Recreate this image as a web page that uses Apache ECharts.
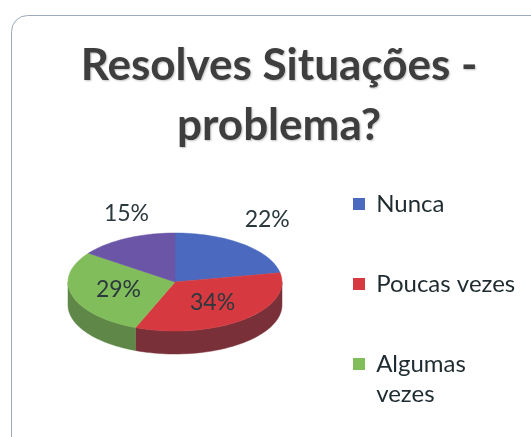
<!DOCTYPE html>
<html>
<head>
<meta charset="utf-8">
<script src="https://cdn.jsdelivr.net/npm/echarts@6/dist/echarts.min.js"></script>
<style>
  html, body { margin: 0; padding: 0; background: #ffffff; }
  #chart { width: 531px; height: 437px; }
</style>
</head>
<body>
<div id="chart"></div>
<script>
// Answer categories and their shares (%)
const categories = ['Nunca', 'Poucas vezes', 'Algumas vezes', 'Sempre'];
const percents = [22, 34, 29, 15];
// Only the first three categories fit in the legend box
const legendNames = ['Nunca', 'Poucas vezes', 'Algumas vezes'];
const titleText = 'Resolves Situações -\nproblema?';

// Face and side colours of each slice
const topColors = ['#4a69bf', '#d63a40', '#82bd5b', '#6a55a6'];
const sideColors = ['#34497f', '#7a3038', '#5f8748', '#4a3b73'];

// Tilted-pie geometry
const PIE = { cx: 175, cy: 282, rx: 107, ry: 49, depth: 23 };
const FONT = 'Lato, "Open Sans", sans-serif';

const total = percents.reduce((a, b) => a + b, 0);
const startAngles = [];
(function () {
  let acc = 0;
  percents.forEach(function (v) { startAngles.push(acc / total * Math.PI * 2); acc += v; });
})();

// Point on the ellipse for an angle measured clockwise from 12 o'clock
function ellipsePoint(a, dy) {
  return [PIE.cx + PIE.rx * Math.sin(a), PIE.cy - PIE.ry * Math.cos(a) + (dy || 0)];
}
function arc(a0, a1, dy) {
  const pts = [];
  const n = Math.max(2, Math.ceil((a1 - a0) / (Math.PI / 90)));
  for (let i = 0; i <= n; i++) pts.push(ellipsePoint(a0 + (a1 - a0) * i / n, dy));
  return pts;
}

function makeRender(i) {
  return function (params, api) {
    const share = api.value(0);
    const a0 = startAngles[i];
    const a1 = a0 + share / total * Math.PI * 2;
    const children = [];

    // Front wall: only the part facing the viewer (lower half of the ellipse)
    const s0 = Math.max(a0, Math.PI / 2);
    const s1 = Math.min(a1, Math.PI * 1.5);
    if (s1 > s0) {
      const upper = arc(s0, s1, 0);
      const lower = arc(s0, s1, PIE.depth).reverse();
      children.push({
        type: 'polygon', z2: 1,
        shape: { points: upper.concat(lower) },
        style: { fill: sideColors[i], stroke: sideColors[i], lineWidth: 0.5 }
      });
    }

    // Top face
    children.push({
      type: 'polygon', z2: 10,
      shape: { points: [[PIE.cx, PIE.cy]].concat(arc(a0, a1, 0)) },
      style: { fill: topColors[i], stroke: topColors[i], lineWidth: 0.5 }
    });

    // Percentage label: back slices outside, front slices inside
    const mid = (a0 + a1) / 2;
    let lx, ly;
    if (Math.cos(mid) > 0) {
      const e = ellipsePoint(mid, 0);
      lx = e[0] + Math.sin(mid) * 22 + 10;
      ly = e[1] - 25;
    } else {
      lx = PIE.cx + PIE.rx * Math.sin(mid) * 0.55;
      ly = PIE.cy - PIE.ry * Math.cos(mid) * 0.55;
    }
    children.push({
      type: 'text', z2: 20,
      style: {
        x: lx, y: ly, text: Math.round(share) + '%',
        align: 'center', verticalAlign: 'middle',
        fill: '#2b383d', font: '23px ' + FONT
      }
    });
    return { type: 'group', children: children };
  };
}

const series = categories.map(function (name, i) {
  return {
    type: 'custom',
    name: name,
    coordinateSystem: 'none',
    itemStyle: { color: topColors[i] },
    silent: true,
    animation: false,
    data: [[percents[i]]],
    renderItem: makeRender(i)
  };
});

// One legend block per entry so each can sit at its own height
const legendText = { color: '#1e2b30', fontSize: 24, fontFamily: FONT, lineHeight: 30 };
function legendAt(name, top, formatter) {
  return {
    orient: 'vertical', left: 353, top: top, padding: 0,
    icon: 'rect', itemWidth: 12, itemHeight: 12, itemGap: 0,
    selectedMode: false,
    data: [name],
    formatter: formatter,
    textStyle: legendText
  };
}
const spaced = function (n) { return ' ' + n; };
// Long entry wraps; a blank first line keeps the icon beside the first word
const wrapped = function (n) { return ' \n ' + n.replace(' ', '\n '); };

const chart = echarts.init(document.getElementById('chart'), null, { renderer: 'canvas' });
chart.setOption({
  backgroundColor: '#ffffff',
  animation: false,
  title: {
    text: titleText,
    left: 274, top: 31, textAlign: 'center',
    textStyle: {
      fontFamily: FONT, fontWeight: 'bold', fontSize: 44, lineHeight: 60,
      color: '#3e3e3e',
      textShadowColor: 'rgba(0,0,0,0.25)', textShadowBlur: 2, textShadowOffsetX: 1, textShadowOffsetY: 1
    }
  },
  legend: [
    legendAt(legendNames[0], 189, spaced),
    legendAt(legendNames[1], 269, spaced),
    legendAt(legendNames[2], 319, wrapped)
  ],
  graphic: [{
    type: 'rect', silent: true,
    shape: { x: 11.5, y: 15.5, width: 540, height: 460, r: 16 },
    style: { fill: 'none', stroke: '#9aabbb', lineWidth: 1 }
  }],
  series: series
});
</script>
</body>
</html>
